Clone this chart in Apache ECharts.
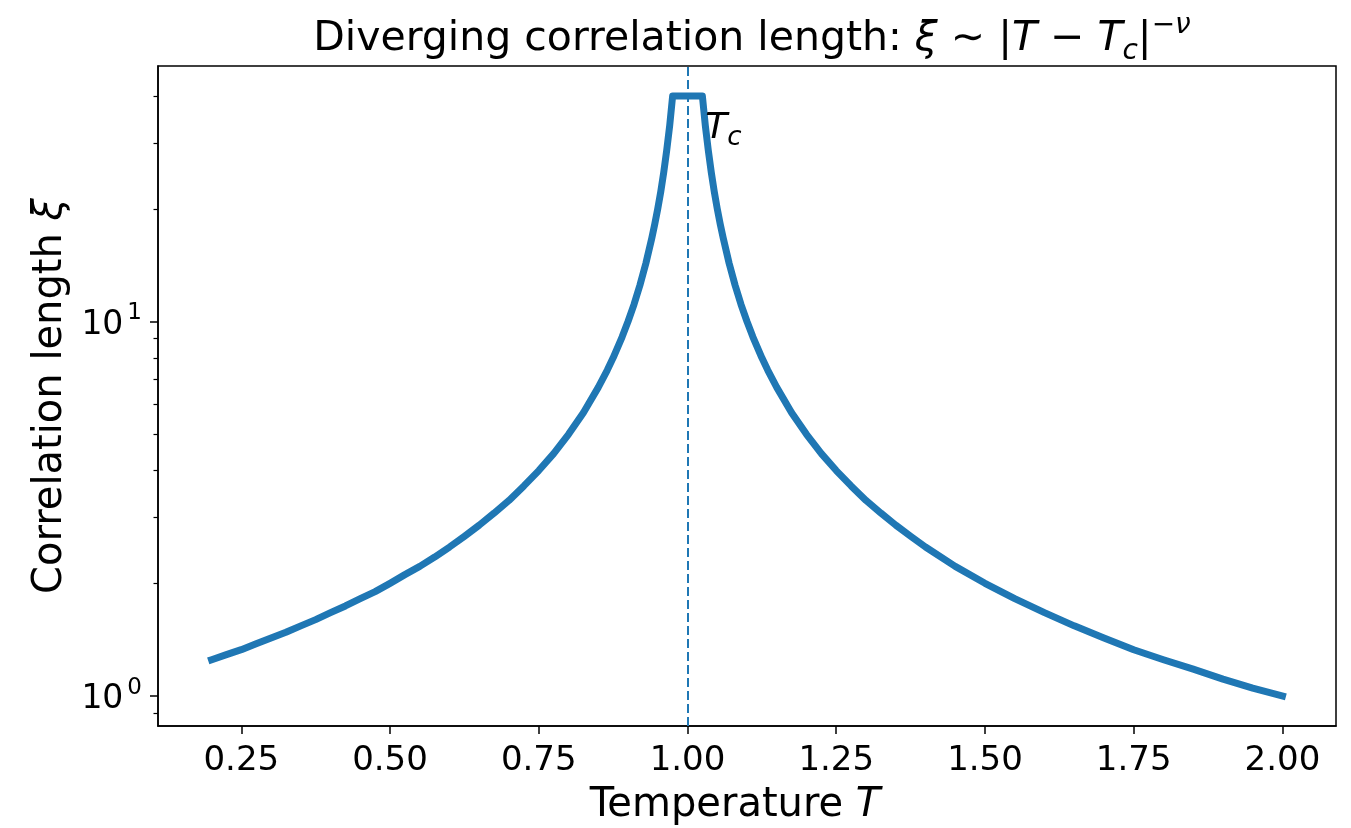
<!DOCTYPE html>
<html>
<head>
<meta charset="utf-8">
<script src="https://cdn.jsdelivr.net/npm/echarts@6/dist/echarts.min.js"></script>
<style>
html,body{margin:0;padding:0;background:#fff;}
#chart{width:1351px;height:828px;}
</style>
</head>
<body>
<div id="chart"></div>
<script>
// Temperature samples and correlation length
const temps = [0.200,0.225,0.250,0.275,0.300,0.325,0.350,0.375,0.400,0.425,0.450,0.475,0.500,0.525,0.550,0.575,0.600,0.625,0.650,0.675,0.700,0.725,0.750,0.775,0.800,0.825,0.850,0.865,0.875,0.890,0.900,0.910,0.920,0.930,0.940,0.945,0.950,0.955,0.960,0.965,0.970,0.975,1.000,1.025,1.030,1.035,1.040,1.045,1.050,1.055,1.060,1.070,1.080,1.090,1.100,1.110,1.125,1.135,1.150,1.175,1.200,1.225,1.250,1.275,1.300,1.325,1.350,1.375,1.400,1.450,1.500,1.550,1.600,1.650,1.700,1.750,1.800,1.850,1.900,1.950,2.000];
const xi    = [1.25,1.29,1.33,1.38,1.43,1.48,1.54,1.60,1.67,1.74,1.82,1.90,2.00,2.11,2.22,2.35,2.50,2.67,2.86,3.08,3.33,3.64,4.00,4.44,5.00,5.71,6.67,7.41,8.00,9.09,10.0,11.1,12.5,14.3,16.7,18.2,20.0,22.2,25.0,28.6,33.3,40.0,40.0,40.0,33.3,28.6,25.0,22.2,20.0,18.2,16.7,14.3,12.5,11.1,10.0,9.09,8.00,7.41,6.67,5.71,5.00,4.44,4.00,3.64,3.33,3.08,2.86,2.67,2.50,2.22,2.00,1.82,1.67,1.54,1.43,1.33,1.25,1.18,1.11,1.05,1.00];
const xTicks = [0.25,0.50,0.75,1.00,1.25,1.50,1.75,2.00];
const yMajorTicks = [1,10];
const yMinorTicks = [0.9,2,3,4,5,6,7,8,9,20,30,40];
const tcLineX = [1.0];
const tcLabelPos = [[1.03, 28.5]];
const xRange = [0.11, 2.09];
const yRange = [0.832, 48.1];

const FONT = 'DejaVu Sans';
const chart = echarts.init(document.getElementById('chart'));
const seriesData = temps.map((t,i)=>[t, xi[i]]);

chart.setOption({
  backgroundColor:'#ffffff',
  animation:false,
  title:{
    text:'Diverging correlation length: {i|ξ} ∼ |{i|T} − {i|T}{sub|c}|{sup|−ν}',
    left:747, textAlign:'center', top:7,
    textStyle:{
      fontFamily:FONT, fontSize:41, fontWeight:'normal', color:'#000', lineHeight:54,
      rich:{
        i:{fontFamily:FONT, fontSize:41, fontStyle:'italic', color:'#000', lineHeight:54},
        sub:{fontFamily:FONT, fontSize:28, fontStyle:'italic', color:'#000', verticalAlign:'bottom', lineHeight:46},
        sup:{fontFamily:FONT, fontSize:28, fontStyle:'italic', color:'#000', verticalAlign:'top', lineHeight:33}
      }
    }
  },
  grid:{left:158, right:15, top:66, bottom:102, show:true, borderColor:'#000', borderWidth:1.5, backgroundColor:'transparent', outerBoundsMode:'none', containLabel:false},
  xAxis:{
    type:'value', min:xRange[0], max:xRange[1],
    name:'Temperature {i|T}', nameLocation:'middle', nameGap:60,
    nameTextStyle:{fontFamily:FONT, fontSize:40, color:'#000', padding:[0,24,0,0], rich:{i:{fontFamily:FONT, fontSize:40, fontStyle:'italic', color:'#000'}}},
    axisLine:{show:true, lineStyle:{color:'#000', width:1.5}},
    axisTick:{show:true, length:8, inside:false, lineStyle:{color:'#000', width:1.5}, customValues:xTicks},
    axisLabel:{fontFamily:FONT, fontSize:34, color:'#000', margin:18, customValues:xTicks, formatter:v=>v.toFixed(2)},
    splitLine:{show:false}
  },
  yAxis:[{
    type:'log', logBase:10, min:yRange[0], max:yRange[1],
    name:'Correlation length {i|ξ}', nameLocation:'middle', nameGap:82, nameRotate:90,
    nameTextStyle:{fontFamily:FONT, fontSize:40, color:'#000', rich:{i:{fontFamily:FONT, fontSize:40, fontStyle:'italic', color:'#000'}}},
    axisLine:{show:true, lineStyle:{color:'#000', width:1.5}},
    axisTick:{show:true, length:8, lineStyle:{color:'#000', width:1.5}, customValues:yMajorTicks},
    axisLabel:{fontFamily:FONT, color:'#000', margin:16, customValues:yMajorTicks,
      formatter:v=>'{b|10}{s|'+Math.round(Math.log10(v))+'}',
      rich:{b:{fontFamily:FONT, fontSize:33, color:'#000', lineHeight:40, verticalAlign:'bottom'},
            s:{fontFamily:FONT, fontSize:23, color:'#000', verticalAlign:'top', lineHeight:26, padding:[0,0,0,4]}}},
    splitLine:{show:false}
  },{
    type:'log', logBase:10, min:yRange[0], max:yRange[1], position:'left',
    axisLine:{show:false},
    axisTick:{show:true, length:4.5, lineStyle:{color:'#000', width:1.2}, customValues:yMinorTicks},
    axisLabel:{show:false},
    splitLine:{show:false}
  }],
  series:[{
    type:'line', data:seriesData, showSymbol:false, symbol:'none', z:2,
    smooth:false,
    lineStyle:{color:'#1f77b4', width:7, join:'round', cap:'square'}
  },{
    type:'line', data:[], z:5,
    markLine:{silent:true, z:5, symbol:['none','none'], label:{show:false},
      lineStyle:{color:'#1f77b4', width:2, type:[9,4], opacity:1},
      data:tcLineX.map(x=>({xAxis:x}))}
  },{
    type:'scatter', data:tcLabelPos, symbolSize:0, z:6,
    label:{show:true, position:[0,0], align:'left', verticalAlign:'bottom', color:'#000', opacity:1,
      formatter:'{t|T}{c|c}',
      rich:{t:{fontFamily:FONT, fontSize:36, fontStyle:'italic', color:'#000', lineHeight:44},
            c:{fontFamily:FONT, fontSize:26, fontStyle:'italic', color:'#000', verticalAlign:'bottom', lineHeight:32}}}
  }]
});
</script>
</body>
</html>
